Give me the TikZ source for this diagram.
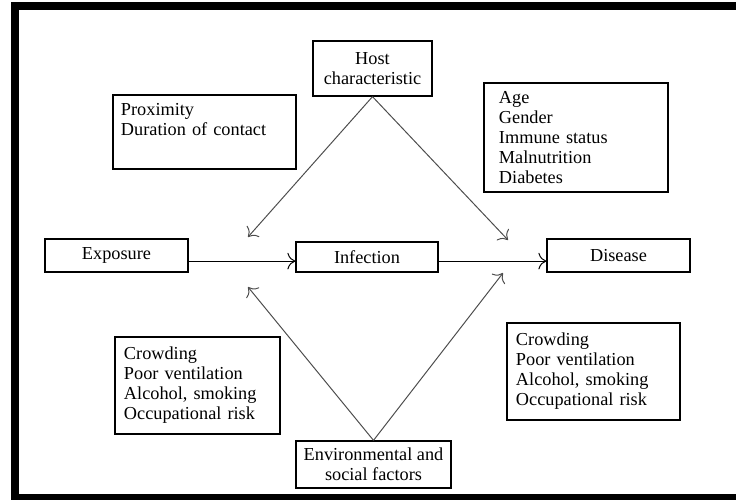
\documentclass[tikz,border=0pt]{standalone}
\usepackage{fontspec}
\setmainfont{Liberation Serif}
\usetikzlibrary{arrows.meta}
\begin{document}
\begin{tikzpicture}[x=0.025cm,y=-0.025cm,>={To[scale=1.8]},
    box/.style={draw,line width=0.9pt,inner sep=0pt,font=\fontsize{13}{14.2}\selectfont},
    listbox/.style={box,align=left},
    link/.style={->,line width=0.7pt,draw=black!70}]
    \useasboundingbox (0,0) rectangle (736,500);
    \fill (11,2) rectangle (736,10);
    \fill (11,2) rectangle (19,500);
    \fill (11,494) rectangle (736,500);
    \node[box,align=center,minimum width=2.975cm,minimum height=1.375cm] (host) at (372.5,68.5) {Host\\characteristic};
    \node[listbox,text width=4.175cm,inner xsep=0.2cm,minimum height=1.85cm] (contact) at (204.5,132) {Proximity\\Duration of contact\\ \strut};
    \node[listbox,text width=3.85cm,inner xsep=0.375cm,minimum height=2.725cm] (hostlist) at (576,137.5) {Age\\Gender\\Immune status\\Malnutrition\\Diabetes};
    \node[box,minimum width=3.575cm,minimum height=0.825cm] (exposure) at (116.5,255.5) {Exposure};
    \node[box,minimum width=3.55cm,minimum height=0.75cm] (infection) at (367,257) {Infection};
    \node[box,minimum width=3.575cm,minimum height=0.825cm] (disease) at (618.5,255.5) {Disease};
    \node[listbox,text width=3.675cm,inner xsep=0.225cm,minimum height=2.425cm] (envleft) at (197.5,385.5) {Crowding\\Poor ventilation\\Alcohol, smoking\\Occupational risk};
    \node[listbox,text width=3.875cm,inner xsep=0.225cm,minimum height=2.425cm] (envright) at (593.5,371.5) {Crowding\\Poor ventilation\\Alcohol, smoking\\Occupational risk};
    \node[box,align=center,minimum width=3.875cm,minimum height=1.175cm] (env) at (373.5,464.5) {Environmental and\\social factors};
    \coordinate (hl) at (248,237);
    \coordinate (hr) at (508,240);
    \coordinate (el) at (248,287);
    \coordinate (er) at (503,273);
    \coordinate (mid) at ([yshift=-0.14cm]exposure.east);
    \draw[link] (host.south) -- (hl);
    \draw[link] (host.south) -- (hr);
    \draw[link] (env.north) -- (el);
    \draw[link] (env.north) -- (er);
    \draw[->,line width=0.7pt] (mid) -- (mid -| infection.west);
    \draw[->,line width=0.7pt] (mid -| infection.east) -- (mid -| disease.west);
\end{tikzpicture}
\end{document}
